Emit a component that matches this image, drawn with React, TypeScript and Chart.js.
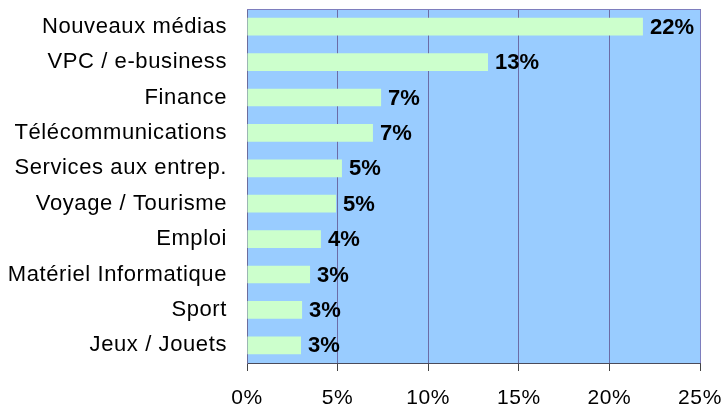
import React, { useEffect, useRef } from "react";
import { Chart, registerables } from "chart.js";

Chart.register(...registerables);

const categories = [
  "Nouveaux médias",
  "VPC / e-business",
  "Finance",
  "Télécommunications",
  "Services aux entrep.",
  "Voyage / Tourisme",
  "Emploi",
  "Matériel Informatique",
  "Sport",
  "Jeux / Jouets",
];
const shares = [21.85, 13.3, 7.4, 6.95, 5.24, 4.91, 4.08, 3.48, 3.04, 2.98];
const shareLabels = ["22%", "13%", "7%", "7%", "5%", "5%", "4%", "3%", "3%", "3%"];
const xTicks = [0, 5, 10, 15, 20, 25];

const FONT = "'Liberation Sans', Arial, sans-serif";
const SPACING = "0.6px";

const spacingPlugin = {
  id: "spacing",
  beforeUpdate(chart: any) {
    chart.ctx.letterSpacing = SPACING;
  },
  beforeDraw(chart: any) {
    const { ctx, chartArea } = chart;
    ctx.letterSpacing = SPACING;
    ctx.save();
    ctx.fillStyle = "#99CCFF";
    ctx.fillRect(chartArea.left, chartArea.top, chartArea.right - chartArea.left, chartArea.bottom - chartArea.top);
    ctx.restore();
  },
};

const borderPlugin = {
  id: "plotBorder",
  afterDatasetsDraw(chart: any) {
    const { ctx, chartArea } = chart;
    ctx.save();
    ctx.strokeStyle = "#7E7EBE";
    ctx.lineWidth = 1;
    ctx.beginPath();
    ctx.moveTo(chartArea.left, chartArea.top + 0.5);
    ctx.lineTo(chartArea.right + 0.5, chartArea.top + 0.5);
    ctx.lineTo(chartArea.right + 0.5, chartArea.bottom);
    ctx.stroke();
    ctx.restore();
  },
};

const valueLabelPlugin = {
  id: "valueLabels",
  afterDatasetsDraw(chart: any) {
    const { ctx } = chart;
    const meta = chart.getDatasetMeta(0);
    ctx.save();
    ctx.letterSpacing = "0px";
    ctx.font = `bold 22px ${FONT}`;
    ctx.fillStyle = "#000000";
    ctx.textAlign = "left";
    ctx.textBaseline = "middle";
    meta.data.forEach((bar: any, i: number) => {
      ctx.fillText(shareLabels[i], bar.x + 7, bar.y + 1);
    });
    ctx.restore();
  },
};

export default function App() {
  const ref = useRef<HTMLCanvasElement | null>(null);
  useEffect(() => {
    if (!ref.current) return;
    const chart = new Chart(ref.current, {
      type: "bar",
      data: {
        labels: categories,
        datasets: [
          {
            data: shares,
            backgroundColor: "#CCFFCC",
            borderWidth: 0,
            barPercentage: 0.5,
            categoryPercentage: 1,
          },
        ],
      },
      options: {
        indexAxis: "y",
        animation: false,
        responsive: false,
        maintainAspectRatio: false,
        layout: { padding: { top: 9, right: 26, left: 0, bottom: 0 } },
        plugins: {
          legend: { display: false },
          tooltip: { enabled: false },
        },
        scales: {
          x: {
            min: 0,
            max: 25,
            afterBuildTicks(scale: any) {
              scale.ticks = xTicks.map((v) => ({ value: v }));
            },
            afterFit(scale: any) {
              scale.height = 47;
              scale.paddingLeft = 0;
              scale.paddingRight = 0;
            },
            grid: {
              color: "#6C6CA6",
              lineWidth: 1,
              drawTicks: true,
              tickLength: 8,
              tickColor: "#444444",
            },
            border: { display: true, color: "#4A4A5A", width: 1 },
            ticks: {
              color: "#000000",
              font: { family: FONT, size: 21 },
              padding: 15,
              callback: (v: any) => `${v}%`,
              maxRotation: 0,
            },
          },
          y: {
            afterFit(scale: any) {
              scale.width = 247;
              scale.paddingTop = 0;
              scale.paddingBottom = 0;
            },
            grid: { display: false, drawTicks: false },
            border: { display: true, color: "#6C6C9C", width: 1 },
            ticks: {
              color: "#000000",
              font: { family: FONT, size: 22 },
              padding: 20,
            },
          },
        },
      },
      plugins: [spacingPlugin, borderPlugin, valueLabelPlugin],
    });
    return () => chart.destroy();
  }, []);
  return (
    <div style={{ position: "absolute", left: 0, top: 0, width: 726, height: 410, background: "#ffffff" }}>
      <canvas ref={ref} width={726} height={410} style={{ width: 726, height: 410, display: "block" }} />
    </div>
  );
}
